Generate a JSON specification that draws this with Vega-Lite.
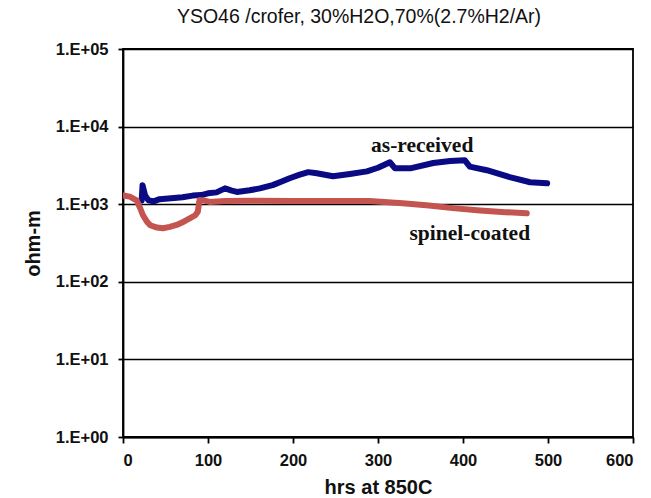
{
  "$schema": "https://vega.github.io/schema/vega-lite/v6.json",
  "width": 510,
  "height": 388,
  "autosize": {"type": "none"},
  "padding": {"left": 123, "top": 49, "right": 18, "bottom": 61},
  "background": "white",
  "title": {
    "text": "YSO46 /crofer, 30%H2O,70%(2.7%H2/Ar)",
    "font": "Liberation Sans",
    "fontSize": 19.5,
    "fontWeight": "normal",
    "color": "#111111",
    "anchor": "middle",
    "dx": -19,
    "offset": 14
  },
  "config": {
    "view": {"stroke": "#000000", "strokeWidth": 1.8},
    "axis": {
      "labelFont": "Liberation Sans",
      "labelFontWeight": "bold",
      "labelFontSize": 16.5,
      "labelColor": "#111111",
      "titleFont": "Liberation Sans",
      "titleFontWeight": "bold",
      "titleFontSize": 20,
      "titleColor": "#111111",
      "domainColor": "#000000",
      "domainWidth": 1.8,
      "tickColor": "#000000",
      "tickWidth": 1.8
    }
  },
  "datasets": {
    "lines": [
      {"series": "as-received", "hrs": 22, "ohm": 1120},
      {"series": "as-received", "hrs": 23, "ohm": 1760},
      {"series": "as-received", "hrs": 26, "ohm": 1300},
      {"series": "as-received", "hrs": 30, "ohm": 1120},
      {"series": "as-received", "hrs": 36, "ohm": 1090},
      {"series": "as-received", "hrs": 43, "ohm": 1160},
      {"series": "as-received", "hrs": 60, "ohm": 1200},
      {"series": "as-received", "hrs": 70, "ohm": 1230},
      {"series": "as-received", "hrs": 82, "ohm": 1290},
      {"series": "as-received", "hrs": 92, "ohm": 1310},
      {"series": "as-received", "hrs": 100, "ohm": 1380},
      {"series": "as-received", "hrs": 110, "ohm": 1420},
      {"series": "as-received", "hrs": 120, "ohm": 1600},
      {"series": "as-received", "hrs": 128, "ohm": 1500},
      {"series": "as-received", "hrs": 134, "ohm": 1440},
      {"series": "as-received", "hrs": 149, "ohm": 1510},
      {"series": "as-received", "hrs": 161, "ohm": 1600},
      {"series": "as-received", "hrs": 176, "ohm": 1760},
      {"series": "as-received", "hrs": 186, "ohm": 1950},
      {"series": "as-received", "hrs": 196, "ohm": 2160},
      {"series": "as-received", "hrs": 208, "ohm": 2400},
      {"series": "as-received", "hrs": 218, "ohm": 2590},
      {"series": "as-received", "hrs": 228, "ohm": 2500},
      {"series": "as-received", "hrs": 247, "ohm": 2290},
      {"series": "as-received", "hrs": 267, "ohm": 2450},
      {"series": "as-received", "hrs": 287, "ohm": 2650},
      {"series": "as-received", "hrs": 300, "ohm": 2950},
      {"series": "as-received", "hrs": 314, "ohm": 3470},
      {"series": "as-received", "hrs": 320, "ohm": 2900},
      {"series": "as-received", "hrs": 338, "ohm": 2900},
      {"series": "as-received", "hrs": 365, "ohm": 3400},
      {"series": "as-received", "hrs": 385, "ohm": 3600},
      {"series": "as-received", "hrs": 402, "ohm": 3690},
      {"series": "as-received", "hrs": 408, "ohm": 3050},
      {"series": "as-received", "hrs": 428, "ohm": 2740},
      {"series": "as-received", "hrs": 455, "ohm": 2230},
      {"series": "as-received", "hrs": 479, "ohm": 1920},
      {"series": "as-received", "hrs": 499, "ohm": 1860},
      {"series": "spinel-coated", "hrs": 0, "ohm": 1300},
      {"series": "spinel-coated", "hrs": 8, "ohm": 1250},
      {"series": "spinel-coated", "hrs": 16, "ohm": 1120},
      {"series": "spinel-coated", "hrs": 20, "ohm": 900},
      {"series": "spinel-coated", "hrs": 23.5, "ohm": 720},
      {"series": "spinel-coated", "hrs": 28, "ohm": 600},
      {"series": "spinel-coated", "hrs": 32, "ohm": 535},
      {"series": "spinel-coated", "hrs": 40, "ohm": 500},
      {"series": "spinel-coated", "hrs": 47, "ohm": 490},
      {"series": "spinel-coated", "hrs": 55, "ohm": 510},
      {"series": "spinel-coated", "hrs": 63, "ohm": 540},
      {"series": "spinel-coated", "hrs": 72, "ohm": 600},
      {"series": "spinel-coated", "hrs": 79, "ohm": 660},
      {"series": "spinel-coated", "hrs": 85, "ohm": 720},
      {"series": "spinel-coated", "hrs": 88, "ohm": 800},
      {"series": "spinel-coated", "hrs": 90, "ohm": 1130},
      {"series": "spinel-coated", "hrs": 95, "ohm": 1120},
      {"series": "spinel-coated", "hrs": 102, "ohm": 1070},
      {"series": "spinel-coated", "hrs": 120, "ohm": 1100},
      {"series": "spinel-coated", "hrs": 150, "ohm": 1110},
      {"series": "spinel-coated", "hrs": 200, "ohm": 1100},
      {"series": "spinel-coated", "hrs": 250, "ohm": 1100},
      {"series": "spinel-coated", "hrs": 290, "ohm": 1100},
      {"series": "spinel-coated", "hrs": 329, "ohm": 1030},
      {"series": "spinel-coated", "hrs": 360, "ohm": 960},
      {"series": "spinel-coated", "hrs": 388, "ohm": 890},
      {"series": "spinel-coated", "hrs": 420, "ohm": 830},
      {"series": "spinel-coated", "hrs": 450, "ohm": 790},
      {"series": "spinel-coated", "hrs": 475, "ohm": 765}
    ],
    "labels": [
      {"series": "as-received", "hrs": 352, "ohm": 5600},
      {"series": "spinel-coated", "hrs": 408, "ohm": 410}
    ]
  },
  "layer": [
    {
      "data": {"name": "lines"},
      "mark": {"type": "line", "strokeWidth": 6, "strokeCap": "round", "strokeJoin": "round", "clip": true},
      "encoding": {
        "x": {
          "field": "hrs", "type": "quantitative",
          "scale": {"domain": [0, 600], "nice": false},
          "axis": {"values": [0, 100, 200, 300, 400, 500, 600], "grid": false, "title": "hrs at 850C", "tickSize": 6, "labelPadding": 9, "titlePadding": 9}
        },
        "y": {
          "field": "ohm", "type": "quantitative",
          "scale": {"type": "log", "domain": [1, 100000], "nice": false},
          "axis": {
            "values": [1, 10, 100, 1000, 10000, 100000],
            "labelExpr": "'1.E+0' + format(round(log(datum.value) / LN10), 'd')",
            "grid": true, "gridColor": "#000000", "gridWidth": 1.5, "gridOpacity": 1,
            "title": "ohm-m", "tickSize": 5, "labelPadding": 10, "titlePadding": 12
          }
        },
        "color": {
          "field": "series", "type": "nominal",
          "scale": {"domain": ["as-received", "spinel-coated"], "range": ["#0a0a85", "#c4544f"]},
          "legend": null
        },
        "detail": {"field": "series"}
      }
    },
    {
      "data": {"name": "labels"},
      "mark": {"type": "text", "font": "Liberation Serif", "fontWeight": "bold", "fontSize": 21.5, "color": "#111111", "align": "center", "baseline": "middle"},
      "encoding": {
        "x": {"field": "hrs", "type": "quantitative"},
        "y": {"field": "ohm", "type": "quantitative"},
        "text": {"field": "series"}
      }
    }
  ]
}
